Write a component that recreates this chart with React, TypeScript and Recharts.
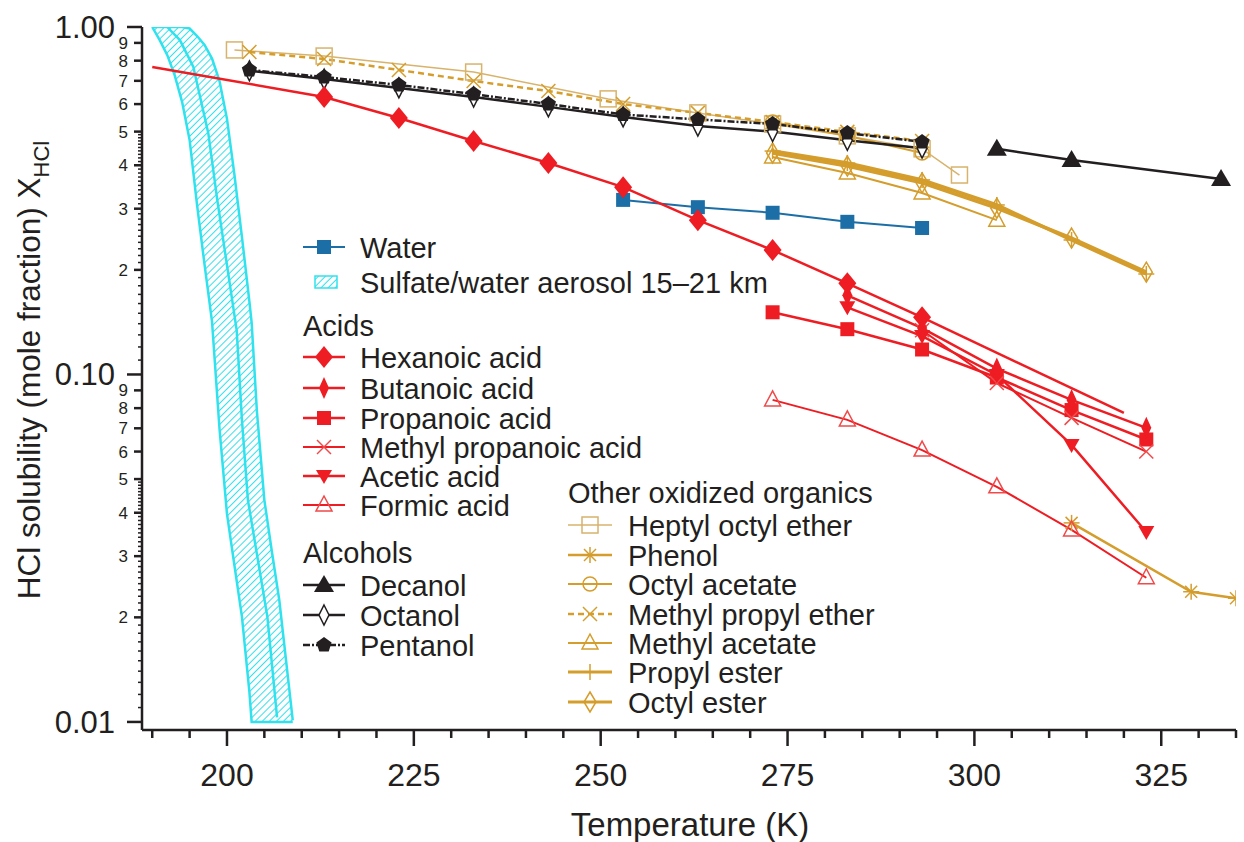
import React from 'react'
import { ComposedChart, Line, Area, XAxis, YAxis } from 'recharts'

const RED = '#ee1d23'
const RED_LIGHT = '#f04a4a'
const BLUE = '#1b6ea6'
const GOLD = '#d49d2c'
const TAN = '#d8b36c'
const CYAN = '#2fe2ee'
const INK = '#231f20'
const FONT = '"Liberation Sans", Arial, Helvetica, sans-serif'

// temperatures (K) and HCl mole fractions
const waterT = [253, 263, 273, 283, 293]
const waterX = [0.318, 0.303, 0.292, 0.275, 0.264]

const hexT = [213, 223, 233, 243, 253, 263, 273, 283, 293]
const hexX = [0.629, 0.547, 0.47, 0.406, 0.346, 0.278, 0.228, 0.183, 0.146]
// hexanoic acid fit, drawn without markers
const hexFitLoT = [190, 213]
const hexFitLoX = [0.767, 0.629]
const hexFitHiT = [293, 320]
const hexFitHiX = [0.146, 0.0775]

const butT = [283, 293, 303, 313, 323]
const butX = [0.169, 0.136, 0.104, 0.0845, 0.0702]
const propT = [273, 283, 293, 303, 313, 323]
const propX = [0.151, 0.135, 0.118, 0.098, 0.079, 0.065]
const mpaT = [293, 303, 313, 323]
const mpaX = [0.134, 0.0945, 0.075, 0.06]
const aceT = [283, 293, 303, 313, 323]
const aceX = [0.156, 0.129, 0.0997, 0.0627, 0.0352]
const forT = [273, 283, 293, 303, 313, 323]
const forX = [0.0845, 0.074, 0.0606, 0.0475, 0.0357, 0.026]

const decT = [303, 313, 333]
const decX = [0.446, 0.414, 0.365]
const alcT = [203, 213, 223, 233, 243, 253, 263, 273, 283, 293]
const octX = [0.748, 0.708, 0.668, 0.629, 0.589, 0.551, 0.519, 0.5, 0.472, 0.448]
const penX = [0.752, 0.718, 0.681, 0.641, 0.6, 0.56, 0.542, 0.526, 0.495, 0.467]

const heptT = [201, 213, 233, 251, 263, 273, 283, 293, 298]
const heptX = [0.859, 0.825, 0.742, 0.621, 0.566, 0.526, 0.486, 0.446, 0.375]
const phenT = [313, 329, 335]
const phenX = [0.0374, 0.0237, 0.0227]
const octAcT = [273, 283, 293]
const octAcX = [0.533, 0.486, 0.434]
const mpeT = [203, 213, 223, 233, 243, 253, 263, 273, 283, 293]
const mpeX = [0.847, 0.809, 0.752, 0.699, 0.654, 0.6, 0.566, 0.533, 0.499, 0.47]
const mAcT = [273, 283, 293, 303]
const mAcX = [0.4225, 0.38, 0.333, 0.278]
const estT = [273, 283, 293, 303, 313, 323]
const propEsX = [0.4395, 0.406, 0.363, 0.3075, 0.2438, 0.1946]
const octEsX = [0.434, 0.398, 0.356, 0.301, 0.247, 0.197]

// sulfate/water aerosol band (lower and upper edge at each T), plus its inner edge
const bandT = [190, 191, 192, 193, 194, 195, 196, 197, 198, 199, 200, 201, 202, 203, 203.3, 204, 205, 206, 207, 208, 208.8]
const bandLow = [1.0, 0.917, 0.831, 0.727, 0.608, 0.473, 0.307, 0.207, 0.142, 0.0698, 0.0397, 0.0282, 0.0201, 0.0122, 0.01, 0.01, 0.01, 0.01, 0.01, 0.01, 0.01]
const bandHigh = [1.0, 1.0, 1.0, 1.0, 1.0, 0.99, 0.942, 0.888, 0.811, 0.699, 0.544, 0.375, 0.249, 0.162, 0.141, 0.0785, 0.0435, 0.031, 0.0224, 0.0144, 0.0101]
const bandMidT = [192.0, 193.7, 195.5, 197.5, 198.7, 201.3, 202.0, 202.8, 205.4, 206.7]
const bandMidX = [1.0, 0.917, 0.767, 0.495, 0.318, 0.134, 0.074, 0.0435, 0.0201, 0.0103]

const xTicks = [190, 195, 200, 205, 210, 215, 220, 225, 230, 235, 240, 245, 250, 255, 260, 265, 270, 275, 280, 285, 290, 295, 300, 305, 310, 315, 320, 325, 330, 335]
const yMajor = [0.01, 0.1, 1]
const yMinor = [2, 3, 4, 5, 6, 7, 8, 9]

const yTicks: number[] = []
yMajor.forEach(d => {
  yTicks.push(d)
  if (d >= 1) return
  for (let i = 11; i <= 50; i++) {
    if (i % 10 === 0) continue
    yTicks.push((d * i) / 10)
  }
  yMinor.forEach(m => yTicks.push(d * m))
})

const pts = (t: number[], v: number[]) => t.map((T, i) => ({ T, v: v[i] }))
const bandData = bandT.map((T, i) => ({ T, range: [bandLow[i], bandHigh[i]] }))

type S = {
  key: string
  label: string
  t: number[]
  v: number[]
  color: string
  width: number
  shape: string
  dash?: string
  mColor?: string
}

const SERIES: Record<string, S> = {
  water: { key: 'water', label: 'Water', t: waterT, v: waterX, color: BLUE, width: 2, shape: 'square' },
  hex: { key: 'hex', label: 'Hexanoic acid', t: hexT, v: hexX, color: RED, width: 2.5, shape: 'diamond' },
  but: { key: 'but', label: 'Butanoic acid', t: butT, v: butX, color: RED, width: 2.5, shape: 'thinDiamond' },
  prop: { key: 'prop', label: 'Propanoic acid', t: propT, v: propX, color: RED, width: 2.5, shape: 'square' },
  mpa: { key: 'mpa', label: 'Methyl propanoic acid', t: mpaT, v: mpaX, color: RED, width: 2, shape: 'x', mColor: RED_LIGHT },
  ace: { key: 'ace', label: 'Acetic acid', t: aceT, v: aceX, color: RED, width: 2.5, shape: 'triDown' },
  form: { key: 'form', label: 'Formic acid', t: forT, v: forX, color: RED, width: 2, shape: 'triUpOpen', mColor: RED_LIGHT },
  dec: { key: 'dec', label: 'Decanol', t: decT, v: decX, color: INK, width: 2.5, shape: 'triUp' },
  oct: { key: 'oct', label: 'Octanol', t: alcT, v: octX, color: INK, width: 2.5, shape: 'openThinDiamond' },
  pen: { key: 'pen', label: 'Pentanol', t: alcT, v: penX, color: INK, width: 2.5, shape: 'pentagon', dash: '7 2 2 2' },
  hept: { key: 'hept', label: 'Heptyl octyl ether', t: heptT, v: heptX, color: TAN, width: 1.5, shape: 'openSquare' },
  phen: { key: 'phen', label: 'Phenol', t: phenT, v: phenX, color: GOLD, width: 2.5, shape: 'asterisk' },
  octAc: { key: 'octAc', label: 'Octyl acetate', t: octAcT, v: octAcX, color: GOLD, width: 2, shape: 'openCircle' },
  mpe: { key: 'mpe', label: 'Methyl propyl ether', t: mpeT, v: mpeX, color: GOLD, width: 2.5, shape: 'x', dash: '6 4' },
  mAc: { key: 'mAc', label: 'Methyl acetate', t: mAcT, v: mAcX, color: GOLD, width: 2, shape: 'triUpOpen' },
  propEs: { key: 'propEs', label: 'Propyl ester', t: estT, v: propEsX, color: GOLD, width: 3.5, shape: 'plus' },
  octEs: { key: 'octEs', label: 'Octyl ester', t: estT, v: octEsX, color: GOLD, width: 3.5, shape: 'openDiamond' },
}

const DRAW_ORDER = ['hept', 'octAc', 'mpe', 'mAc', 'propEs', 'octEs', 'phen', 'oct', 'pen', 'dec', 'water', 'form', 'prop', 'mpa', 'ace', 'but', 'hex']

function Marker({ shape, cx, cy, color }: { shape: string; cx: number; cy: number; color: string }) {
  const p = (arr: number[][]) => arr.map(([a, b]) => `${cx + a},${cy + b}`).join(' ')
  switch (shape) {
    case 'square':
      return <rect x={cx - 7} y={cy - 7} width={14} height={14} fill={color} />
    case 'diamond':
      return <polygon points={p([[0, -11], [9, 0], [0, 11], [-9, 0]])} fill={color} />
    case 'thinDiamond':
      return <polygon points={p([[0, -11], [5, 0], [0, 11], [-5, 0]])} fill={color} />
    case 'openThinDiamond':
      return <polygon points={p([[0, -10], [5, 0], [0, 10], [-5, 0]])} fill="#fff" stroke={color} strokeWidth={1.5} />
    case 'openDiamond':
      return <polygon points={p([[0, -10], [6, 0], [0, 10], [-6, 0]])} fill="none" stroke={color} strokeWidth={1.5} />
    case 'triDown':
      return <polygon points={p([[-8, -6], [8, -6], [0, 8]])} fill={color} />
    case 'triUp':
      return <polygon points={p([[0, -10], [10, 7], [-10, 7]])} fill={color} />
    case 'triUpOpen':
      return <polygon points={p([[0, -9], [8, 6], [-8, 6]])} fill="none" stroke={color} strokeWidth={1.5} />
    case 'pentagon':
      return <polygon points={p([[0, -8], [7.6, -2.5], [4.7, 6.5], [-4.7, 6.5], [-7.6, -2.5]])} fill={color} />
    case 'openSquare':
      return <rect x={cx - 8} y={cy - 8} width={16} height={16} fill="none" stroke={color} strokeWidth={1.5} />
    case 'openCircle':
      return <circle cx={cx} cy={cy} r={7} fill="none" stroke={color} strokeWidth={1.5} />
    case 'x':
      return (
        <g stroke={color} strokeWidth={1.5}>
          <line x1={cx - 7} y1={cy - 7} x2={cx + 7} y2={cy + 7} />
          <line x1={cx - 7} y1={cy + 7} x2={cx + 7} y2={cy - 7} />
        </g>
      )
    case 'plus':
      return (
        <g stroke={color} strokeWidth={1.5}>
          <line x1={cx - 8} y1={cy} x2={cx + 8} y2={cy} />
          <line x1={cx} y1={cy - 8} x2={cx} y2={cy + 8} />
        </g>
      )
    case 'asterisk':
      return (
        <g stroke={color} strokeWidth={1.5}>
          <line x1={cx - 8} y1={cy} x2={cx + 8} y2={cy} />
          <line x1={cx} y1={cy - 8} x2={cx} y2={cy + 8} />
          <line x1={cx - 6} y1={cy - 6} x2={cx + 6} y2={cy + 6} />
          <line x1={cx - 6} y1={cy + 6} x2={cx + 6} y2={cy - 6} />
        </g>
      )
    default:
      return <g />
  }
}

const XTick = (props: any) => {
  const { x, y, payload } = props
  const major = payload.value % 25 === 0
  return (
    <g>
      <line x1={x} x2={x} y1={y} y2={y + (major ? 16 : 8)} stroke={INK} strokeWidth={2.5} />
      {major && (
        <text x={x} y={y + 56} textAnchor="middle" fontSize={32} fontFamily={FONT} fill={INK}>
          {payload.value}
        </text>
      )}
    </g>
  )
}

const YTick = (props: any) => {
  const { x, y, payload } = props
  const v: number = payload.value
  const dec = Math.pow(10, Math.floor(Math.log10(v) + 1e-9))
  const m = Math.round((v / dec) * 10) / 10
  const major = Math.abs(m - 1) < 1e-6
  const labeled = !major && Math.abs(m - Math.round(m)) < 1e-6
  const len = major ? 15 : labeled ? 8 : 4
  return (
    <g>
      <line x1={x - len} x2={x} y1={y} y2={y} stroke={INK} strokeWidth={major || labeled ? 2.5 : 1.5} />
      {major && (
        <text x={x - 27} y={y + 11} textAnchor="end" fontSize={31} fontFamily={FONT} fill={INK}>
          {v.toFixed(2)}
        </text>
      )}
      {labeled && (
        <text x={x - 14} y={y + 6} textAnchor="end" fontSize={17} fontFamily={FONT} fill={INK}>
          {Math.round(m)}
        </text>
      )}
    </g>
  )
}

const LEG_FONT = 29

function LegendRow({ s, x, len, y, textX }: { s: S; x: number; len: number; y: number; textX: number }) {
  return (
    <g>
      <line x1={x} x2={x + len} y1={y} y2={y} stroke={s.color} strokeWidth={Math.min(s.width, 3)} strokeDasharray={s.dash} />
      <Marker shape={s.shape} cx={x + len / 2} cy={y} color={s.mColor ?? s.color} />
      <text x={textX} y={y + 10.5} fontSize={LEG_FONT} fontFamily={FONT} fill={INK}>
        {s.label}
      </text>
    </g>
  )
}

const Heading = ({ x, y, children }: { x: number; y: number; children: React.ReactNode }) => (
  <text x={x} y={y + 10.5} fontSize={LEG_FONT} fontFamily={FONT} fill={INK}>
    {children}
  </text>
)

function Overlay() {
  const L = { x: 303, len: 42, textX: 360 }
  const R = { x: 568, len: 44, textX: 628 }
  const left: [string, number][] = [['hex', 357], ['but', 388], ['prop', 418], ['mpa', 447], ['ace', 476], ['form', 505]]
  const alc: [string, number][] = [['dec', 585], ['oct', 615], ['pen', 645]]
  const right: [string, number][] = [['hept', 525], ['phen', 555], ['octAc', 584], ['mpe', 614], ['mAc', 643], ['propEs', 672], ['octEs', 702]]
  return (
    <svg width={1244} height={842} style={{ position: 'absolute', left: 0, top: 0, pointerEvents: 'none' }}>
      <defs>
        <pattern id="hatchLeg" patternUnits="userSpaceOnUse" width={5} height={5} patternTransform="rotate(45)">
          <line x1={0} y1={0} x2={0} y2={5} stroke={CYAN} strokeWidth={2} />
        </pattern>
      </defs>
      {/* axis titles */}
      <text x={690} y={836} textAnchor="middle" fontSize={33} fontFamily={FONT} fill={INK}>
        Temperature (K)
      </text>
      <text transform="translate(40, 370) rotate(-90)" textAnchor="middle" fontSize={31.5} fontFamily={FONT} fill={INK}>
        HCl solubility (mole fraction) X
        <tspan fontSize={22} dy={9}>HCl</tspan>
      </text>

      <LegendRow s={SERIES.water} x={L.x} len={L.len} y={247} textX={L.textX} />
      <rect x={315} y={276} width={22} height={12} fill="url(#hatchLeg)" stroke={CYAN} strokeWidth={1.5} />
      <text x={L.textX} y={292.5} fontSize={LEG_FONT} fontFamily={FONT} fill={INK}>
        Sulfate/water aerosol 15–21 km
      </text>
      <Heading x={303} y={325}>Acids</Heading>
      {left.map(([k, y]) => (
        <LegendRow key={k} s={SERIES[k]} x={L.x} len={L.len} y={y} textX={L.textX} />
      ))}
      <Heading x={303} y={552}>Alcohols</Heading>
      {alc.map(([k, y]) => (
        <LegendRow key={k} s={SERIES[k]} x={L.x} len={L.len} y={y} textX={L.textX} />
      ))}
      <Heading x={568} y={492}>Other oxidized organics</Heading>
      {right.map(([k, y]) => (
        <LegendRow key={k} s={SERIES[k]} x={R.x} len={R.len} y={y} textX={R.textX} />
      ))}
    </svg>
  )
}

export default function App() {
  return (
    <div style={{ position: 'absolute', left: 0, top: 0, width: 1244, height: 842, background: '#fff' }}>
      <ComposedChart width={1244} height={842} margin={{ top: 27, right: 8, left: 0, bottom: 0 }}>
        <defs>
          <pattern id="hatch" patternUnits="userSpaceOnUse" width={5} height={5} patternTransform="rotate(45)">
            <line x1={0} y1={0} x2={0} y2={5} stroke={CYAN} strokeWidth={2} />
          </pattern>
        </defs>
        <XAxis
          type="number"
          dataKey="T"
          domain={[188.63, 335]}
          ticks={xTicks}
          interval={0}
          allowDataOverflow
          height={112}
          tickSize={0}
          tickMargin={0}
          tickLine={false}
          tick={<XTick />}
          axisLine={{ stroke: INK, strokeWidth: 2.5 }}
        />
        <YAxis
          type="number"
          scale="log"
          domain={[0.00948, 1]}
          ticks={yTicks}
          interval={0}
          allowDataOverflow
          width={142}
          tickSize={0}
          tickMargin={0}
          tickLine={false}
          tick={<YTick />}
          axisLine={{ stroke: INK, strokeWidth: 2.5 }}
        />
        <Area
          data={bandData}
          dataKey="range"
          type="linear"
          stroke={CYAN}
          strokeWidth={2.5}
          fill="url(#hatch)"
          fillOpacity={1}
          dot={false}
          activeDot={false}
          isAnimationActive={false}
        />
        <Line data={pts(bandMidT, bandMidX)} dataKey="v" stroke={CYAN} strokeWidth={2.5} dot={false} activeDot={false} isAnimationActive={false} />
        <Line data={pts(hexFitLoT, hexFitLoX)} dataKey="v" stroke={RED} strokeWidth={2.5} dot={false} activeDot={false} isAnimationActive={false} />
        <Line data={pts(hexFitHiT, hexFitHiX)} dataKey="v" stroke={RED} strokeWidth={2.5} dot={false} activeDot={false} isAnimationActive={false} />
        {DRAW_ORDER.map(k => {
          const s = SERIES[k]
          return (
            <Line
              key={k}
              data={pts(s.t, s.v)}
              dataKey="v"
              name={s.label}
              stroke={s.color}
              strokeWidth={s.width}
              strokeDasharray={s.dash}
              dot={(p: any) => <Marker key={`${k}-${p.index}`} shape={s.shape} cx={p.cx} cy={p.cy} color={s.mColor ?? s.color} />}
              activeDot={false}
              isAnimationActive={false}
            />
          )
        })}
      </ComposedChart>
      <Overlay />
    </div>
  )
}
